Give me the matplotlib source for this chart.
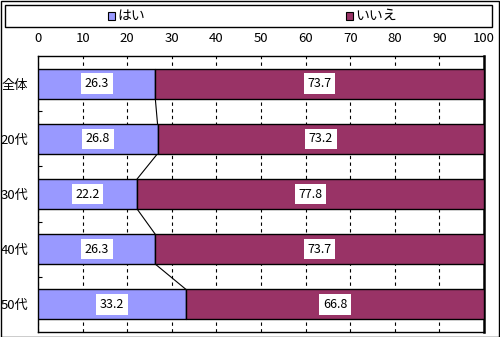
import matplotlib
matplotlib.use("Agg")
import matplotlib.pyplot as plt
from matplotlib.patches import Rectangle

plt.rcParams['font.family'] = ['Noto Sans CJK JP', 'DejaVu Sans']

categories = ["全体", "20代", "30代", "40代", "50代"]
yes_vals = [26.3, 26.8, 22.2, 26.3, 33.2]
no_vals = [73.7, 73.2, 77.8, 73.7, 66.8]
series_names = ["はい", "いいえ"]
x_ticks = [0, 10, 20, 30, 40, 50, 60, 70, 80, 90, 100]

yes_color = "#9999FF"
no_color = "#993366"

fig = plt.figure(figsize=(5.0, 3.37), dpi=100)
fig.patch.set_facecolor("white")

ax = fig.add_axes([38/500, 1 - 332/337, 446/500, 276/337])
ypos = list(range(len(categories)))
h = 0.54

ax.barh(ypos, yes_vals, height=h, color=yes_color, edgecolor="black", linewidth=1, zorder=3)
ax.barh(ypos, no_vals, left=yes_vals, height=h, color=no_color, edgecolor="black", linewidth=1, zorder=3)

# series lines joining the segment boundaries
for i in range(len(categories) - 1):
    ax.plot([yes_vals[i], yes_vals[i + 1]], [i + h/2, i + 1 - h/2],
            color="black", linewidth=0.8, zorder=2)

# value labels
box = dict(boxstyle="square,pad=0.3", facecolor="white", edgecolor="none")
for i in range(len(categories)):
    ax.text(yes_vals[i] / 2, i, f"{yes_vals[i]:.1f}", ha="center", va="center",
            fontsize=9, bbox=box, zorder=5)
    ax.text(yes_vals[i] + no_vals[i] / 2, i, f"{no_vals[i]:.1f}", ha="center", va="center",
            fontsize=9, bbox=box, zorder=5)

ax.set_xlim(0, 100)
ax.set_ylim(len(categories) - 0.5, -0.5)
ax.xaxis.tick_top()
ax.set_xticks(x_ticks)
ax.set_xticklabels([str(t) for t in x_ticks], fontsize=9.5)
ax.tick_params(axis="x", length=0, pad=8)
ax.grid(axis="x", color="black", linestyle=(0, (3, 3)), linewidth=0.8, zorder=1)

ax.set_yticks(ypos)
ax.set_yticklabels(categories, fontsize=9.5)
ax.tick_params(axis="y", length=0, pad=7)
# inward ticks at category boundaries
ax.set_yticks([i + 0.5 for i in range(len(categories) - 1)], minor=True)
ax.tick_params(axis="y", which="minor", direction="in", length=3, width=0.8)

for s in ax.spines.values():
    s.set_color("black")
    s.set_linewidth(1)
ax.spines["right"].set_linewidth(1.8)

# legend frame across the top
fig.add_artist(Rectangle((5/500, 1 - 27/337), 487/500, 22/337, transform=fig.transFigure,
                         facecolor="white", edgecolor="black", linewidth=1))
ly = 1 - 16/337
for name, color, x0 in [(series_names[0], yes_color, 108), (series_names[1], no_color, 346)]:
    fig.add_artist(Rectangle((x0/500, ly - 3.5/337), 7/500, 7/337, transform=fig.transFigure,
                             facecolor=color, edgecolor="black", linewidth=0.8))
    fig.text((x0 + 9)/500, ly, name, ha="left", va="center", fontsize=10)

# outer chart border
fig.add_artist(Rectangle((0.5/500, 0.5/337), 498/500, 336/337, transform=fig.transFigure,
                         facecolor="none", edgecolor="black", linewidth=1))

fig.savefig("out.png", dpi=100)
